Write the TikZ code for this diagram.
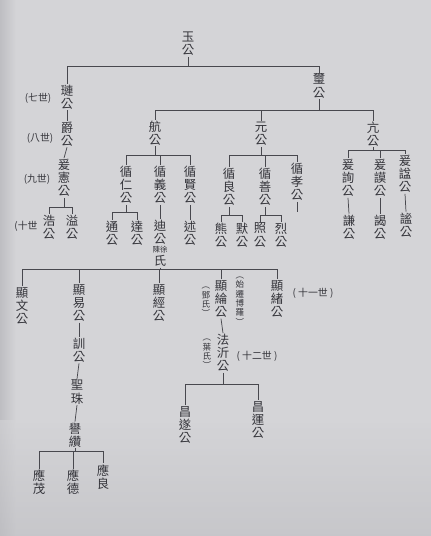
\documentclass[tikz,border=0pt]{standalone}
\usepackage{fontspec}
\newfontfamily\cjk{Noto Sans CJK TC}
\definecolor{paper}{RGB}{212,212,215}
\definecolor{paperdark}{RGB}{190,190,194}
\definecolor{ink}{RGB}{52,52,58}
\tikzset{
  nm/.style={align=center,inner sep=0.6pt,text=ink,font=\cjk\fontsize{9.3}{9.9}\selectfont},
  sm/.style={align=center,inner sep=0.5pt,text=ink,font=\cjk\fontsize{6.4}{7}\selectfont},
  gen/.style={inner sep=0.5pt,text=ink,font=\cjk\fontsize{7.4}{8}\selectfont},
  ln/.style={draw=ink!90,line width=0.55pt}
}
\begin{document}
\begin{tikzpicture}[x=0.75pt,y=-0.75pt]
\useasboundingbox (0,0) rectangle (431,536);
\fill[paper] (0,0) rectangle (431,536);
\shade[left color=paperdark,right color=paper] (0,0) rectangle (16,536);
\shade[top color=paper,bottom color=paperdark,opacity=0.6] (0,420) rectangle (431,536);

% generation 6-10 left
\node[nm] (yu) at (188,44) {玉\\公};
\node[nm] (xi) at (319,86) {璽\\公};
\node[nm] (lian) at (67,97) {璉\\公};
\node[nm] (jue) at (67,134) {爵\\公};
\node[nm] (xian) at (64,178) {爰\\憲\\公};
\node[nm] (hao) at (49,227) {浩\\公};
\node[nm] (yi1) at (72,227) {溢\\公};
\node[gen] (g7) at (38,98) {(七世)};
\node[gen] (g8) at (40,138) {(八世)};
\node[gen] (g9) at (37,179) {(九世)};
\node[gen] (g10) at (26,226) {(十世};

% children of xi
\node[nm] (hang) at (155,133) {航\\公};
\node[nm] (yuan) at (261,134) {元\\公};
\node[nm] (kang) at (373,134) {亢\\公};

\node[nm] (xren) at (126,185) {循\\仁\\公};
\node[nm] (xyi) at (160,185) {循\\義\\公};
\node[nm] (xxian) at (190,185) {循\\賢\\公};
\node[nm] (tong) at (112,233) {通\\公};
\node[nm] (da) at (137,233) {達\\公};
\node[nm] (di) at (160,232) {迪\\公};
\node[sm,font=\cjk\fontsize{5.6}{6}\selectfont] (chenxu) at (160,250) {陳徐};
\node[nm] (shi) at (160,261) {氏};
\node[nm] (shu) at (190,233) {述\\公};

\node[nm] (xliang) at (229,187) {循\\良\\公};
\node[nm] (xshan) at (265,187) {循\\善\\公};
\node[nm] (xxiao) at (297,182) {循\\孝\\公};
\coordinate (xxiaoend) at (297,212);
\node[nm] (xiong) at (221,235) {熊\\公};
\node[nm] (mo) at (242,235) {默\\公};
\node[nm] (zhao) at (260,235) {照\\公};
\node[nm] (lie) at (281,235) {烈\\公};

\node[nm] (yxun) at (348,178) {爰\\詢\\公};
\node[nm] (ymo) at (380,178) {爰\\謨\\公};
\node[nm] (yshi) at (405,174) {爰\\諡\\公};
\node[nm] (qian) at (349,227) {謙\\公};
\node[nm] (ye) at (380,227) {謁\\公};
\node[nm] (mi) at (406,225) {謐\\公};

% generation 11
\node[nm] (hwen) at (22,306) {顯\\文\\公};
\node[nm] (hyi) at (79,303) {顯\\易\\公};
\node[nm] (hjing) at (159,303) {顯\\經\\公};
\node[nm] (hlun) at (221,299) {顯\\綸\\公};
\node[nm] (hxu) at (277,299) {顯\\緒\\公};
\node[sm] (deng) at (206,302) {︵\\鄧\\氏\\︶};
\node[sm] (shiqian) at (240,301) {︵\\始\\遷\\博\\羅\\︶};
\node[gen] (g11) at (313,293) {( 十一世 )};

\node[nm] (xun) at (79,350) {訓\\公};
\node[nm] (shengzhu) at (77,392) {聖\\珠};
\node[nm] (yuzuan) at (75,435) {譽\\纘};
\node[nm] (ymao) at (39,482) {應\\茂};
\node[nm] (yde) at (73,482) {應\\德};
\node[nm] (yliang) at (103,477) {應\\良};

\node[nm] (fayi) at (223,353) {法\\沂\\公};
\node[sm] (yeshi) at (207,354) {︵\\葉\\氏\\︶};
\node[gen] (g12) at (257,356) {( 十二世 )};
\node[nm] (csui) at (185,425) {昌\\遂\\公};
\node[nm] (cyun) at (258,420) {昌\\運\\公};

% bus coordinates
\coordinate (b0) at (0,66);
\coordinate (b1) at (0,207);
\coordinate (b2) at (0,110);
\coordinate (b3) at (0,155);
\coordinate (b4) at (0,212);
\coordinate (b5) at (0,155);
\coordinate (b6) at (0,215);
\coordinate (b7) at (0,150);
\coordinate (b8) at (0,269);
\coordinate (b9) at (0,451);
\coordinate (b10) at (0,384);

% connectors
\draw[ln] (yu.south) -- (yu.south|-b0);
\draw[ln] (lian.north) |- (xi.north|-b0) -- (xi.north);
\draw[ln] (lian.south) -- (jue.north);
\draw[ln] (jue.south) -- (xian.north);
\draw[ln] (xian.south) -- (xian.south|-b1);
\draw[ln] (hao.north) |- (yi1.north|-b1) -- (yi1.north);

\draw[ln] (xi.south) -- (xi.south|-b2);
\draw[ln] (hang.north) |- (kang.north|-b2) -- (kang.north);
\draw[ln] (yuan.north) -- (yuan.north|-b2);

\draw[ln] (hang.south) -- (hang.south|-b3);
\draw[ln] (xren.north) |- (xxian.north|-b3) -- (xxian.north);
\draw[ln] (xyi.north) -- (xyi.north|-b3);
\draw[ln] (xren.south) -- (xren.south|-b4);
\draw[ln] (tong.north) |- (da.north|-b4) -- (da.north);
\draw[ln] (xyi.south) -- (di.north);
\draw[ln] (xxian.south) -- (shu.north);

\draw[ln] (yuan.south) -- (yuan.south|-b5);
\draw[ln] (xliang.north) |- (xxiao.north|-b5) -- (xxiao.north);
\draw[ln] (xshan.north) -- (xshan.north|-b5);
\draw[ln] (xxiao.south) -- (xxiaoend);
\draw[ln] (xliang.south) -- (xliang.south|-b6);
\draw[ln] (xiong.north) |- (mo.north|-b6) -- (mo.north);
\draw[ln] (xshan.south) -- (xshan.south|-b6);
\draw[ln] (zhao.north) |- (lie.north|-b6) -- (lie.north);

\draw[ln] (kang.south) -- (kang.south|-b7);
\draw[ln] (yxun.north) |- (yshi.north|-b7) -- (yshi.north);
\draw[ln] (ymo.north) -- (ymo.north|-b7);
\draw[ln] (yxun.south) -- (qian.north);
\draw[ln] (ymo.south) -- (ye.north);
\draw[ln] (yshi.south) -- (mi.north);

\draw[ln] (shi.south) -- (shi.south|-b8);
\draw[ln] (hwen.north) |- (hxu.north|-b8) -- (hxu.north);
\draw[ln] (hyi.north) -- (hyi.north|-b8);
\draw[ln] (hjing.north) -- (hjing.north|-b8);
\draw[ln] (hlun.north) -- (hlun.north|-b8);

\draw[ln] (hyi.south) -- (xun.north);
\draw[ln] (xun.south) -- (shengzhu.north);
\draw[ln] (shengzhu.south) -- (yuzuan.north);
\draw[ln] (yuzuan.south) -- (yuzuan.south|-b9);
\draw[ln] (ymao.north) |- (yliang.north|-b9) -- (yliang.north);
\draw[ln] (yde.north) -- (yde.north|-b9);

\draw[ln] (hlun.south) -- (fayi.north);
\draw[ln] (fayi.south) -- (fayi.south|-b10);
\draw[ln] (csui.north) |- (cyun.north|-b10) -- (cyun.north);
\end{tikzpicture}
\end{document}
